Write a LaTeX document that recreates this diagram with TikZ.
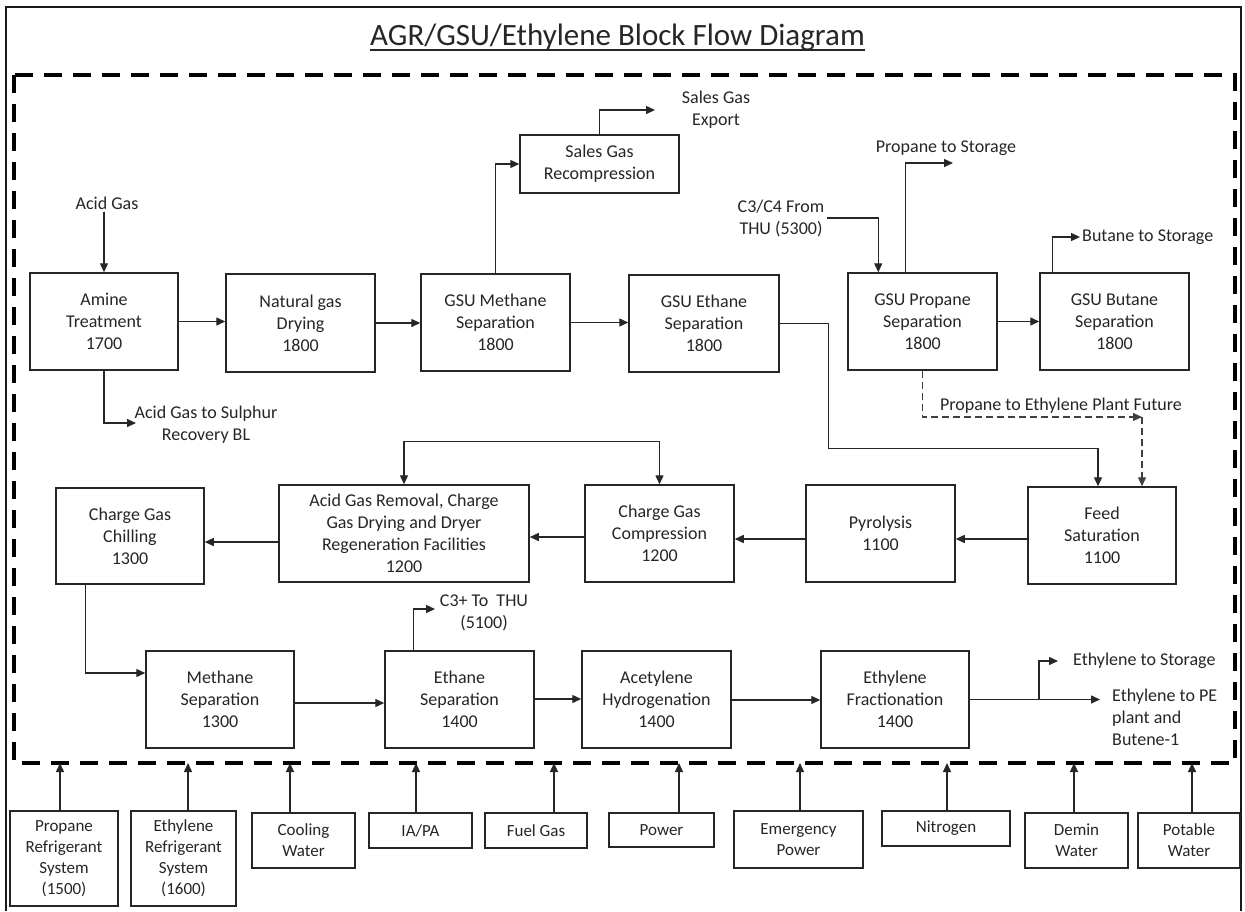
\documentclass[tikz,border=0pt]{standalone}
\usepackage{fontspec}
\setmainfont{Carlito}
\usetikzlibrary{arrows.meta,calc}
\begin{document}
\begin{tikzpicture}[x=1pt,y=-1pt,
  blk/.style={draw=black!85, line width=1.5pt, align=center, inner sep=2pt, text=black!85, font=\fontsize{18}{22}\selectfont},
  ublk/.style={blk, font=\fontsize{17}{21}\selectfont},
  lbl/.style={align=center, inner sep=2pt, text=black!85, font=\fontsize{18}{22}\selectfont},
  flow/.style={line width=1.4pt, draw=black!85, -{Triangle[length=9pt,width=8pt]}},
  bflow/.style={line width=1.4pt, draw=black!85, {Triangle[length=9pt,width=8pt]}-{Triangle[length=9pt,width=8pt]}},
  dflow/.style={line width=1.2pt, draw=black!75, dash pattern=on 7pt off 4pt, -{Triangle[length=9pt,width=8pt]}},
  boundary/.style={line width=3.5pt, draw=black, dash pattern=on 18pt off 11pt}
]
\useasboundingbox (0,0) rectangle (1245,911);
\fill[white] (0,0) rectangle (1245,911);

% frames
\draw[line width=1.6pt, black!90] (6,911) -- (6,7) -- (1241,7) -- (1241,911);
\draw[boundary] (14,75) rectangle (1235,763);

% title
\node[anchor=base, inner sep=0pt, text=black!85, font=\fontsize{31}{36}\selectfont] (title) at (617.5,45) {AGR/GSU/Ethylene Block Flow Diagram};
\draw[line width=1.5pt, black!85] ($(title.base west)+(0,5)$) -- ($(title.base east)+(0,5)$);

% row 1
\node[blk, minimum width=148pt, minimum height=97pt] (amine) at (104,321.5) {Amine\\Treatment\\1700};
\node[blk, minimum width=149pt, minimum height=98pt] (natgas) at (300.5,323) {Natural gas\\Drying\\1800};
\node[blk, minimum width=149pt, minimum height=97pt] (gsume) at (495.5,322.5) {GSU Methane\\Separation\\1800};
\node[blk, minimum width=150pt, minimum height=97pt] (gsuet) at (704,323.5) {GSU Ethane\\Separation\\1800};
\node[blk, minimum width=149pt, minimum height=97pt] (gsupr) at (922.5,321.5) {GSU Propane\\Separation\\1800};
\node[blk, minimum width=149pt, minimum height=97pt] (gsubu) at (1114.5,321.5) {GSU Butane\\Separation\\1800};
\node[blk, minimum width=159pt, minimum height=58pt] (sgr) at (599.5,164) {Sales Gas\\Recompression};

% row 2
\node[blk, minimum width=148pt, minimum height=97pt] (feed) at (1102,535.5) {Feed\\Saturation\\1100};
\node[blk, minimum width=149pt, minimum height=97pt] (pyro) at (880.5,533.5) {Pyrolysis\\1100};
\node[blk, minimum width=149pt, minimum height=97pt] (cgc) at (659.5,533.5) {Charge Gas\\Compression\\1200};
\node[blk, minimum width=250pt, minimum height=97pt] (agr) at (404,533.5) {Acid Gas Removal, Charge\\Gas Drying and Dryer\\Regeneration Facilities\\1200};
\node[blk, minimum width=148pt, minimum height=96pt] (chill) at (130,536) {Charge Gas\\Chilling\\1300};

% row 3
\node[blk, minimum width=148pt, minimum height=97pt] (methsep) at (220,699.5) {Methane\\Separation\\1300};
\node[blk, minimum width=149pt, minimum height=97pt] (ethsep) at (459.5,699.5) {Ethane\\Separation\\1400};
\node[blk, minimum width=149pt, minimum height=97pt] (acet) at (656.5,699.5) {Acetylene\\Hydrogenation\\1400};
\node[blk, minimum width=148pt, minimum height=97pt] (ethfrac) at (895,699.5) {Ethylene\\Fractionation\\1400};

% utilities
\node[ublk, minimum width=108pt, minimum height=95pt] (u1) at (64,858.5) {Propane\\Refrigerant\\System\\(1500)};
\node[ublk, minimum width=105pt, minimum height=95pt] (u2) at (183.5,858.5) {Ethylene\\Refrigerant\\System\\(1600)};
\node[ublk, minimum width=103pt, minimum height=55pt] (u3) at (303.5,840.5) {Cooling\\Water};
\node[ublk, minimum width=103pt, minimum height=35pt] (u4) at (420.5,830.5) {IA/PA};
\node[ublk, minimum width=102pt, minimum height=35pt] (u5) at (536,830.5) {Fuel Gas};
\node[ublk, minimum width=105pt, minimum height=34pt] (u6) at (661.5,830) {Power};
\node[ublk, minimum width=129pt, minimum height=57pt] (u7) at (798.5,839.5) {Emergency\\Power};
\node[ublk, minimum width=128pt, minimum height=35pt] (u8) at (946,828.5) {Nitrogen};
\node[ublk, minimum width=103pt, minimum height=55pt] (u9) at (1076.5,840.5) {Demin\\Water};
\node[ublk, minimum width=102pt, minimum height=55pt] (u10) at (1189,840.5) {Potable\\Water};

% labels
\node[lbl] (acidgas) at (107,203) {Acid Gas};
\node[lbl] (sgx) at (716,110) {Sales Gas\\Export};
\node[lbl] (pts) at (946,148) {Propane to Storage};
\node[lbl] (c3c4) at (781,218) {C3/C4 From\\THU (5300)};
\node[lbl, anchor=west] (bts) at (1080,237) {Butane to Storage};
\node[lbl] (pef) at (1061,406) {Propane to Ethylene Plant Future};
\node[lbl] (asr) at (206,425) {Acid Gas to Sulphur\\Recovery BL};
\node[lbl] (c3p) at (484,613) {C3+ To\ \ THU\\(5100)};
\node[lbl, anchor=west] (ets) at (1071,661) {Ethylene to Storage};
\node[lbl, anchor=west, align=left] (epe) at (1110,717) {Ethylene to PE\\plant and\\Butene-1};

% free ends
\coordinate (sgxin) at (655,110);
\coordinate (ptsin) at (953,163);
\coordinate (pcorner) at (1142,417);
\coordinate (asrin) at (136,423);
\coordinate (c3pin) at (435,609);
\coordinate (ebr) at (1039,699.5);
\coordinate (eout) at (1100,699.5);
\coordinate (estor) at (1058,661);

% row 1 connectors
\draw[flow] (acidgas.south -| amine.north) -- (amine.north);
\draw[flow] (amine.east) -- (amine.east -| natgas.west);
\draw[flow] (natgas.east) -- (natgas.east -| gsume.west);
\draw[flow] (gsume.east) -- (gsume.east -| gsuet.west);
\draw[flow] (gsume.north) |- (sgr.west);
\draw[flow] (sgr.north) |- (sgxin);
\draw[flow] ($(gsupr.north west)+(58,0)$) |- (ptsin);
\draw[flow] (c3c4.east) -| ($(gsupr.north west)+(31,0)$);
\draw[flow] (gsupr.east) -- (gsupr.east -| gsubu.west);
\draw[flow] ($(gsubu.north west)+(13,0)$) |- (bts.west);
\draw[flow] (amine.south) |- (asrin);
\draw[flow] (gsuet.east) -| ($(gsuet.east)+(49,125)$) -| ($(feed.north)+(-4,0)$);
\draw[dflow] ($(gsupr.south west)+(75,0)$) |- (pcorner);
\draw[dflow] (pcorner) -- (pcorner |- feed.north);

% row 2 connectors
\draw[flow] (feed.west |- 0,539) -- (pyro.east |- 0,539);
\draw[flow] (pyro.west |- 0,539) -- (cgc.east |- 0,539);
\draw[flow] (cgc.west |- 0,537) -- (agr.east |- 0,537);
\draw[flow] (agr.west |- 0,542) -- (chill.east |- 0,542);
\draw[bflow] (cgc.north) -- ++(0,-43) -| (agr.north);

% row 3 connectors
\draw[flow] ($(chill.south west)+(30,0)$) |- (methsep.west |- 0,673);
\draw[flow] (methsep.east |- 0,703) -- (ethsep.west |- 0,703);
\draw[flow] (ethsep.east |- 0,699) -- (acet.west |- 0,699);
\draw[flow] (acet.east |- 0,700) -- (ethfrac.west |- 0,700);
\draw[flow] ($(ethsep.north west)+(29,0)$) |- (c3pin);
\draw[flow] (ethfrac.east) -- (eout);
\draw[flow] (ebr) |- (estor);

% utility feeds
\foreach \u/\x in {u1/60,u2/188,u3/290,u4/416,u5/554,u6/679,u7/800,u8/947,u9/1074,u10/1192}{
  \coordinate (d\u) at (\x,763);
  \draw[flow] (\u.north -| d\u) -- (d\u);
}
\end{tikzpicture}
\end{document}
